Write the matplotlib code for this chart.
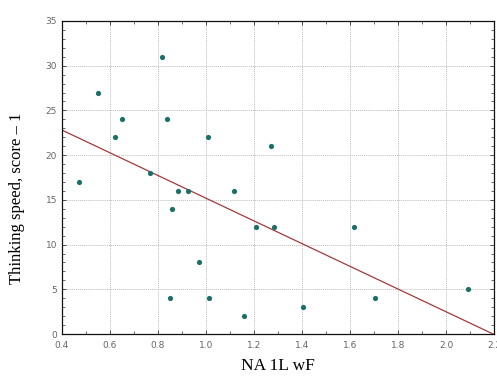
import matplotlib
matplotlib.use("Agg")
import matplotlib.pyplot as plt
from matplotlib.ticker import MultipleLocator, FormatStrFormatter

x_vals = [0.47, 0.55, 0.62, 0.65, 0.765, 0.815, 0.836, 0.85, 0.857, 0.885, 0.926,
          0.97, 1.007, 1.011, 1.117, 1.157, 1.207, 1.27, 1.283, 1.404, 1.617, 1.704, 2.092]
y_vals = [17, 27, 22, 24, 18, 31, 24, 4, 14, 16, 16,
          8, 22, 4, 16, 2, 12, 21, 12, 3, 12, 4, 5]
fit_x = [0.4, 2.2]
fit_y = [22.8, -0.05]

fig = plt.figure(figsize=(4.97, 3.76), dpi=100)
fig.patch.set_facecolor("white")

bg = fig.add_axes([40/497, 18/376, 1 - 40/497, (358-13)/376])
bg.set_facecolor("#fdfcf1")
bg.set_axis_off()
bg.patch.set_visible(True)
bg.set_zorder(0)

ax = fig.add_axes([62/497, 42/376, 432/497, 313/376])
ax.set_zorder(1)
ax.set_facecolor("white")
ax.scatter(x_vals, y_vals, s=14, color="#1a7069", zorder=3, linewidths=0)
ax.plot(fit_x, fit_y, color="#a33a3a", lw=0.9, zorder=2)

ax.set_xlim(0.4, 2.2)
ax.set_ylim(0, 35)
ax.xaxis.set_major_locator(MultipleLocator(0.2))
ax.xaxis.set_minor_locator(MultipleLocator(0.1))
ax.yaxis.set_major_locator(MultipleLocator(5))
ax.yaxis.set_minor_locator(MultipleLocator(1))
ax.xaxis.set_major_formatter(FormatStrFormatter("%.1f"))
ax.tick_params(which="both", direction="in", top=True, right=True,
               labelsize=6.5, labelcolor="#666666", color="#333333")
ax.tick_params(which="major", length=3, width=0.6)
ax.tick_params(which="minor", length=2, width=0.5)
ax.tick_params(axis="x", pad=5)
for sp in ax.spines.values():
    sp.set_linewidth(0.9)
    sp.set_color("#111111")
ax.grid(True, which="major", linestyle=(0, (1, 1)), color="#bdbdbd", linewidth=0.7)
ax.set_axisbelow(True)

fig.text(278/497, 1 - 366/376, "NA 1L wF", ha="center", va="center",
         family="Liberation Serif", fontsize=12.5)
fig.text(17/497, 1 - 198/376, "Thinking speed, score \u2013 1", ha="center", va="center",
         rotation=90, family="Liberation Serif", fontsize=12)

fig.savefig("out.png", dpi=100)
